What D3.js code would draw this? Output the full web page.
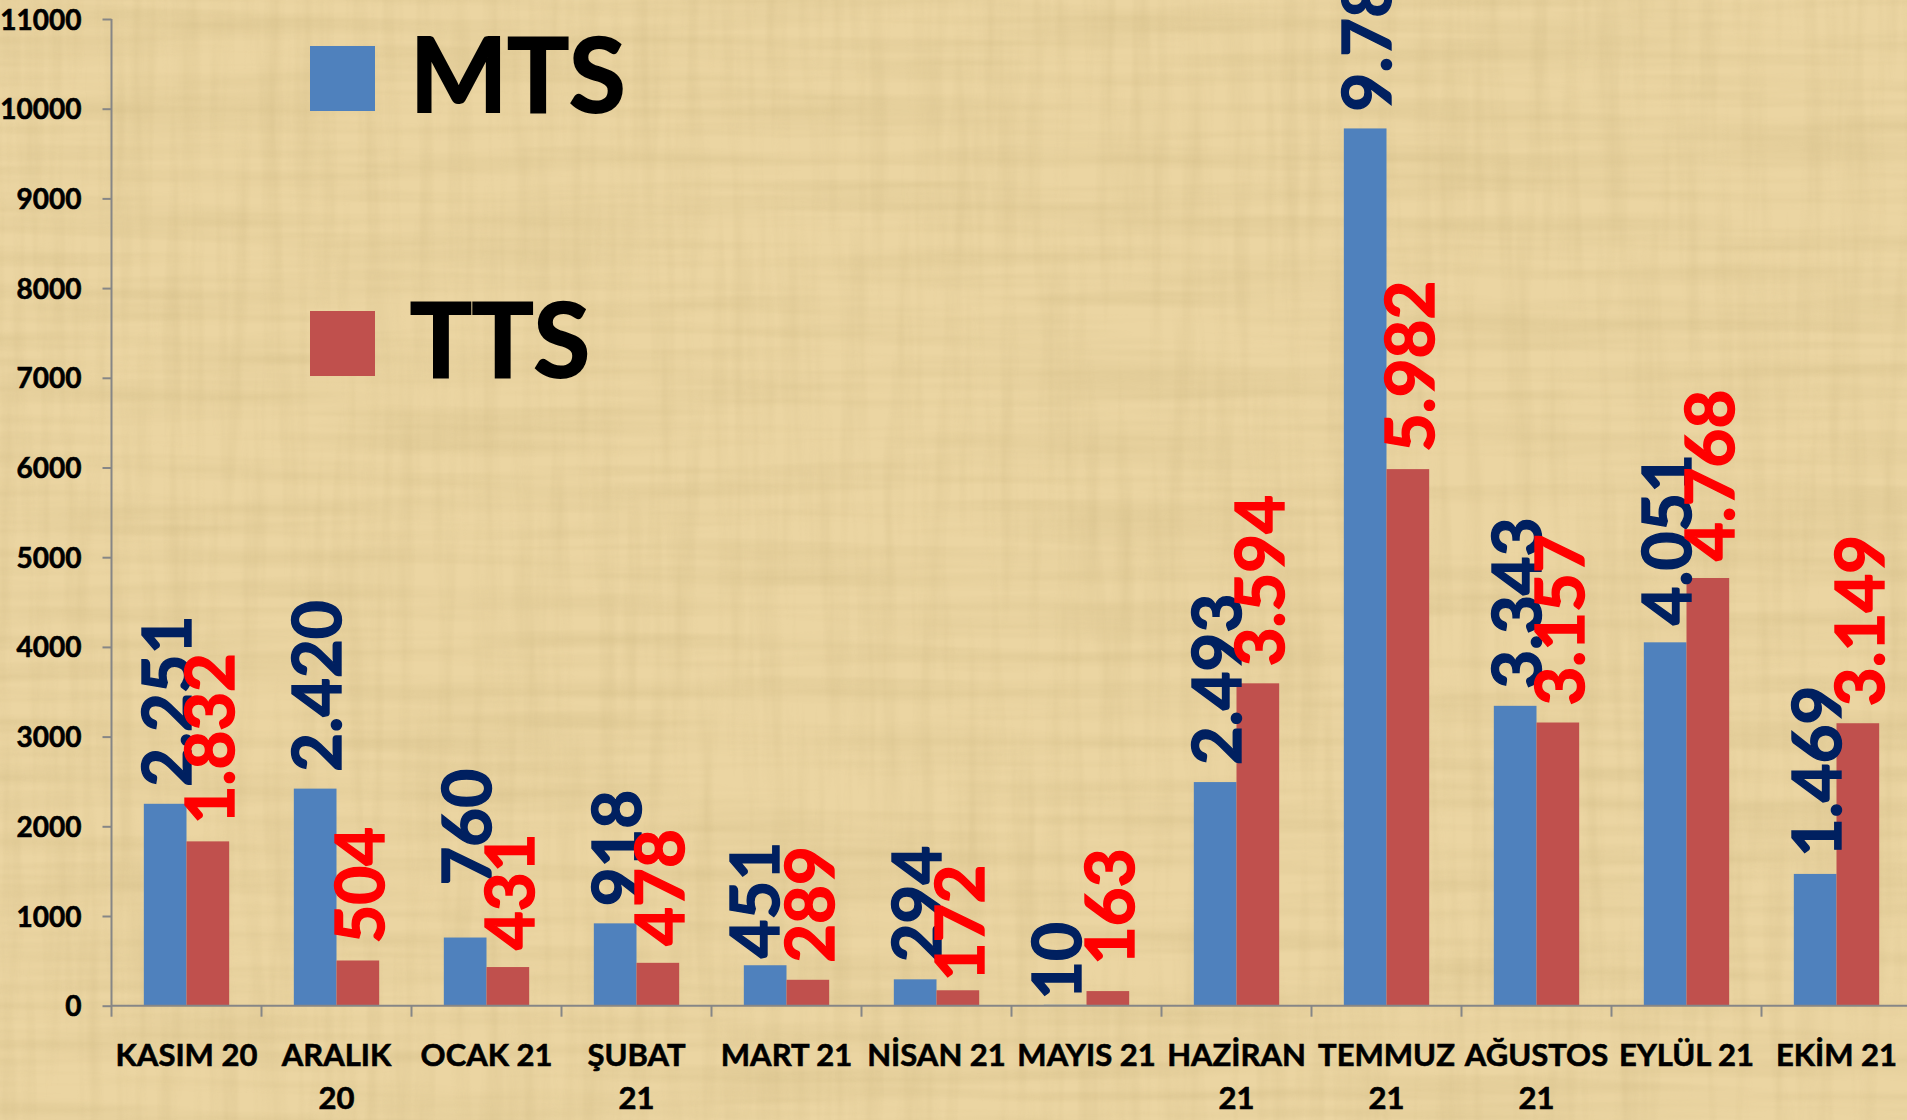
<!DOCTYPE html>
<html>
<head>
<meta charset="utf-8">
<script src="https://cdn.jsdelivr.net/npm/d3@7"></script>
<style>
  html, body { margin: 0; padding: 0; background: #E8D29E; }
  svg { display: block; }
  text { font-family: Lato, "Open Sans", sans-serif; font-weight: 700; }
</style>
</head>
<body>
<svg id="chart" width="1907" height="1120"></svg>
<script>
// ---------- data ----------
const categories = ["KASIM 20", "ARALIK 20", "OCAK 21", "ŞUBAT 21", "MART 21", "NİSAN 21",
                    "MAYIS 21", "HAZİRAN 21", "TEMMUZ 21", "AĞUSTOS 21", "EYLÜL 21", "EKİM 21"];
const seriesNames = ["MTS", "TTS"];
const mtsValues = [2251, 2420, 760, 918, 451, 294, 10, 2493, 9780, 3343, 4051, 1469];
const ttsValues = [1832, 504, 431, 478, 289, 172, 163, 3594, 5982, 3157, 4768, 3149];
const yTickValues = [0, 1000, 2000, 3000, 4000, 5000, 6000, 7000, 8000, 9000, 10000, 11000];
const wrappedCategories = ["ARALIK 20", "ŞUBAT 21", "HAZİRAN 21", "TEMMUZ 21", "AĞUSTOS 21"];

// ---------- layout / style ----------
const W = 1907, H = 1120;
const plot = { left: 111.5, right: 1911.5, top: 19, bottom: 1005.7 };
const colors = { MTS: "#4F81BD", TTS: "#C0504D" };
const labelColors = { MTS: "#002060", TTS: "#FF0000" };
// manual label nudges (as in the original chart) : [series, index, dx, dy]
const labelNudges = [["MTS", 2, 0, -35], ["MTS", 4, -12, 10], ["MTS", 6, -10, 12],
                     ["TTS", 5, 0, 8], ["TTS", 6, 0, -9]];

const svg = d3.select("#chart");

// papyrus-like background
const defs = svg.append("defs");
const f1 = defs.append("filter").attr("id", "fibers").attr("x", 0).attr("y", 0)
  .attr("width", 1).attr("height", 1);
f1.append("feTurbulence").attr("type", "fractalNoise")
  .attr("baseFrequency", "0.003 0.06").attr("numOctaves", 3).attr("seed", 3);
f1.append("feColorMatrix").attr("type", "matrix")
  .attr("values", "0 0 0 0 0.55  0 0 0 0 0.42  0 0 0 0 0.18  1.2 0 0 0 -0.45");
const f2 = defs.append("filter").attr("id", "fibers2").attr("x", 0).attr("y", 0)
  .attr("width", 1).attr("height", 1);
f2.append("feTurbulence").attr("type", "fractalNoise")
  .attr("baseFrequency", "0.06 0.004").attr("numOctaves", 3).attr("seed", 7);
f2.append("feColorMatrix").attr("type", "matrix")
  .attr("values", "0 0 0 0 0.55  0 0 0 0 0.42  0 0 0 0 0.18  1.2 0 0 0 -0.5");

svg.append("rect").attr("width", W).attr("height", H).attr("fill", "#EBD5A2");
svg.append("rect").attr("width", W).attr("height", H).attr("filter", "url(#fibers)").attr("opacity", 0.4);
svg.append("rect").attr("width", W).attr("height", H).attr("filter", "url(#fibers2)").attr("opacity", 0.35);

// scales
const x0 = d3.scaleBand().domain(categories).range([plot.left, plot.right]).padding(0);
const groupPad = 0.2155;
const x1 = d3.scaleBand().domain(seriesNames)
  .range([x0.bandwidth() * groupPad, x0.bandwidth() * (1 - groupPad)]).padding(0);
const y = d3.scaleLinear().domain([0, 11000]).range([plot.bottom, plot.top]);

const rows = categories.map((c, i) => ({ cat: c, i, MTS: mtsValues[i], TTS: ttsValues[i] }));

// bars
const groups = svg.append("g").selectAll("g").data(rows).join("g")
  .attr("transform", d => `translate(${x0(d.cat)},0)`);
groups.selectAll("rect").data(d => seriesNames.map(s => ({ s, v: d[s] }))).join("rect")
  .attr("x", d => x1(d.s)).attr("width", x1.bandwidth())
  .attr("y", d => y(d.v)).attr("height", d => y(0) - y(d.v))
  .attr("fill", d => colors[d.s]);

// axes
const axisColor = "#868686";
const yAxis = svg.append("g").attr("transform", `translate(${plot.left},0)`)
  .call(d3.axisLeft(y).tickValues(yTickValues).tickFormat(d3.format("d")).tickSize(9).tickPadding(21));
yAxis.select(".domain").attr("stroke", axisColor).attr("stroke-width", 2).attr("d", `M0,${plot.top}V${plot.bottom}`);
yAxis.selectAll(".tick line").attr("stroke", axisColor).attr("stroke-width", 2);
yAxis.selectAll(".tick text").attr("fill", "#000").attr("font-size", 28)
  .attr("font-family", "Lato, sans-serif").attr("font-weight", 700).attr("dy", "0.36em")
  .attr("stroke", "#000").attr("stroke-width", 0.6);

const xAxis = svg.append("g").attr("transform", `translate(0,${plot.bottom})`);
xAxis.append("path").attr("d", `M${plot.left},0H${plot.right}`).attr("stroke", axisColor).attr("stroke-width", 2);
const boundaries = categories.map(c => x0(c)).concat([x0(categories[categories.length - 1]) + x0.bandwidth()]);
xAxis.selectAll("line.tk").data(boundaries).join("line").attr("class", "tk")
  .attr("x1", d => d).attr("x2", d => d).attr("y1", 0).attr("y2", 11)
  .attr("stroke", axisColor).attr("stroke-width", 2);

const xl = svg.append("g").selectAll("text").data(categories).join("text")
  .attr("x", d => x0(d) + x0.bandwidth() / 2)
  .attr("y", 1066)
  .attr("text-anchor", "middle").attr("font-size", 31).attr("fill", "#000")
  .attr("stroke", "#000").attr("stroke-width", 0.6);
xl.each(function (d) {
  const t = d3.select(this);
  const lines = wrappedCategories.includes(d) ? [d.slice(0, d.lastIndexOf(" ")), d.slice(d.lastIndexOf(" ") + 1)] : [d];
  lines.forEach((ln, k) => t.append("tspan").attr("x", x0(d) + x0.bandwidth() / 2).attr("dy", k === 0 ? 0 : 43).text(ln));
});

// data labels
const trLocale = d3.formatLocale({ decimal: ",", thousands: ".", grouping: [3], currency: ["", "₺"] });
const fmt = trLocale.format(",d");
const labels = [];
rows.forEach(r => seriesNames.forEach(s => {
  const n = labelNudges.find(a => a[0] === s && a[1] === r.i);
  labels.push({ s, v: r[s], cx: x0(r.cat) + x1(s) + x1.bandwidth() / 2 + (n ? n[2] : 0), dy: n ? n[3] : 0 });
}));
svg.append("g").selectAll("text").data(labels).join("text")
  .attr("transform", d => `translate(${d.cx + 2},${y(d.v) - 17 + d.dy}) rotate(-90)`)
  .attr("dy", "0.36em").attr("font-size", 67).attr("fill", d => labelColors[d.s])
  .attr("stroke", d => labelColors[d.s]).attr("stroke-width", 1.4)
  .text(d => fmt(d.v));

// legend
const legend = svg.append("g");
const legendItems = [{ s: "MTS", y: 46 }, { s: "TTS", y: 311 }];
legend.selectAll("rect").data(legendItems).join("rect")
  .attr("x", 310).attr("y", d => d.y).attr("width", 65).attr("height", 65)
  .attr("fill", d => colors[d.s]);
legend.selectAll("text").data(legendItems).join("text")
  .attr("x", 410).attr("y", d => d.y + 66).attr("font-size", 103).attr("fill", "#000")
  .attr("stroke", "#000").attr("stroke-width", 2)
  .text(d => d.s);
</script>
</body>
</html>
